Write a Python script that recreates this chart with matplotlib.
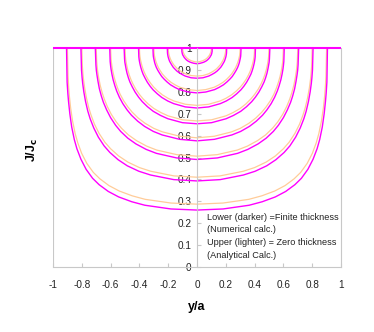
import numpy as np
import matplotlib
matplotlib.use("Agg")
import matplotlib.pyplot as plt

plt.rcParams['font.family'] = ['Liberation Sans', 'DejaVu Sans']

# flux front positions b/a of the nine profiles
fronts = [0.9, 0.8, 0.7, 0.6, 0.5, 0.4, 0.3, 0.2, 0.1]

# half profiles (y/a >= 0), zero thickness (analytical, lighter)
y_zero = [
    [0, .18, .36, .45, .54, .612, .675, .72, .765, .801, .828, .846, .864, .8775, .8865, .891, .8955, .9],
    [0, .16, .32, .40, .48, .544, .60, .64, .68, .712, .736, .752, .768, .78, .788, .792, .796, .8],
    [0, .14, .28, .35, .42, .476, .525, .56, .595, .623, .644, .658, .672, .6825, .6895, .693, .6965, .7],
    [0, .12, .24, .30, .36, .408, .45, .48, .51, .534, .552, .564, .576, .585, .591, .594, .597, .6],
    [0, .10, .20, .25, .30, .34, .375, .40, .425, .445, .46, .47, .48, .4875, .4925, .495, .4975, .5],
    [0, .08, .16, .20, .24, .272, .30, .32, .34, .356, .368, .376, .384, .39, .394, .396, .398, .4],
    [0, .06, .12, .15, .18, .204, .225, .24, .255, .267, .276, .282, .288, .2925, .2955, .297, .2985, .3],
    [0, .04, .08, .10, .12, .136, .15, .16, .17, .178, .184, .188, .192, .195, .197, .198, .199, .2],
    [0, .02, .04, .05, .06, .068, .075, .08, .085, .089, .092, .094, .096, .0975, .0985, .099, .0995, .1],
]
j_zero = [
    [.287, .292, .309, .325, .347, .372, .403, .432, .473, .519, .567, .609, .666, .726, .782, .820, .871, 1],
    [.410, .416, .437, .454, .479, .507, .540, .570, .610, .652, .694, .728, .773, .817, .856, .882, .916, 1],
    [.506, .513, .534, .552, .577, .603, .634, .662, .697, .733, .767, .795, .829, .864, .893, .913, .938, 1],
    [.590, .597, .617, .633, .656, .680, .707, .731, .760, .789, .818, .841, .868, .895, .918, .933, .952, 1],
    [.667, .672, .690, .705, .724, .745, .768, .788, .812, .836, .858, .876, .898, .919, .937, .948, .963, 1],
    [.738, .743, .758, .770, .786, .803, .821, .837, .856, .875, .892, .906, .923, .939, .952, .961, .972, 1],
    [.806, .810, .821, .831, .843, .856, .870, .881, .896, .909, .922, .932, .944, .956, .965, .972, .980, 1],
    [.872, .874, .882, .889, .897, .905, .915, .922, .932, .941, .949, .956, .964, .971, .978, .982, .987, 1],
    [.936, .938, .942, .945, .949, .953, .958, .962, .966, .971, .975, .978, .982, .986, .989, .991, .994, 1],
]

# half profiles, finite thickness (numerical, darker)
y_finite = [
    [0, .181, .362, .453, .544, .616, .680, .725, .770, .806, .834, .852, .870, .883, .892, .897, .902, .906],
    [0, .161, .322, .403, .484, .548, .605, .645, .685, .717, .742, .758, .774, .786, .794, .798, .802, .806],
    [0, .141, .282, .353, .424, .480, .530, .565, .600, .628, .650, .664, .678, .688, .695, .699, .702, .706],
    [0, .121, .242, .303, .364, .412, .455, .485, .515, .539, .558, .570, .582, .591, .597, .600, .603, .606],
    [0, .101, .202, .253, .304, .344, .380, .405, .430, .450, .466, .476, .486, .493, .498, .501, .503, .506],
    [0, .081, .162, .203, .244, .276, .305, .325, .345, .361, .374, .382, .390, .396, .400, .402, .404, .406],
    [0, .061, .122, .153, .184, .208, .230, .245, .260, .272, .282, .288, .294, .298, .301, .303, .304, .306],
    [0, .041, .082, .103, .124, .140, .155, .165, .175, .183, .190, .194, .198, .201, .203, .204, .205, .206],
    [0, .021, .042, .053, .064, .072, .080, .085, .090, .094, .098, .100, .102, .103, .104, .105, .105, .106],
]
j_finite = [
    [.260, .265, .282, .298, .320, .345, .376, .405, .446, .492, .540, .582, .639, .699, .755, .793, .844, 1],
    [.393, .399, .420, .437, .462, .490, .523, .553, .593, .635, .677, .711, .756, .800, .839, .865, .899, 1],
    [.491, .498, .519, .537, .562, .588, .619, .647, .682, .718, .752, .780, .814, .849, .878, .898, .923, 1],
    [.576, .583, .603, .619, .642, .666, .693, .717, .746, .775, .804, .827, .854, .881, .904, .919, .938, 1],
    [.654, .659, .677, .692, .711, .732, .755, .775, .799, .823, .845, .863, .885, .906, .924, .935, .950, 1],
    [.726, .731, .746, .758, .774, .791, .809, .825, .844, .863, .880, .894, .911, .927, .940, .949, .960, 1],
    [.795, .799, .810, .820, .832, .845, .859, .870, .885, .898, .911, .921, .933, .945, .954, .961, .969, 1],
    [.862, .864, .872, .879, .887, .895, .905, .912, .922, .931, .939, .946, .954, .961, .968, .972, .977, 1],
    [.928, .930, .934, .937, .941, .945, .950, .954, .958, .963, .967, .970, .974, .978, .981, .983, .986, 1],
]

# saturated region J = Jc across the whole strip
y_sat = [-1, 1]
j_sat = [1, 1]

x_ticks = [-1, -0.8, -0.6, -0.4, -0.2, 0, 0.2, 0.4, 0.6, 0.8, 1]
x_labels = ['-1', '-0.8', '-0.6', '-0.4', '-0.2', '0', '0.2', '0.4', '0.6', '0.8', '1']
y_ticks = [0, 0.1, 0.2, 0.3, 0.4, 0.5, 0.6, 0.7, 0.8, 0.9, 1]
y_labels = ['0', '0.1', '0.2', '0.3', '0.4', '0.5', '0.6', '0.7', '0.8', '0.9', '1']

LIGHT = '#FFCC99'
DARK = '#FF00FF'
GRID = '#C8C8C8'


def full(y, j):
    # mirror the half profile onto y/a < 0
    y = np.asarray(y)
    j = np.asarray(j)
    return np.concatenate([-y[::-1], y[1:]]), np.concatenate([j[::-1], j[1:]])


fig = plt.figure(figsize=(3.74, 3.32), dpi=100)
ax = fig.add_axes([53 / 374, 65 / 332, 288 / 374, 219 / 332])

for y, j in zip(y_zero, j_zero):
    xx, jj = full(y, j)
    ax.plot(xx, jj, color=LIGHT, lw=0.9, clip_on=False)
for y, j in zip(y_finite, j_finite):
    xx, jj = full(y, j)
    ax.plot(xx, jj, color=DARK, lw=1.0, clip_on=False)
ax.plot(y_sat, j_sat, color=DARK, lw=1.5, clip_on=False, solid_capstyle='butt')

ax.set_xlim(-1, 1)
ax.set_ylim(0, 1)

ax.spines['top'].set_visible(False)
ax.spines['left'].set_position(('data', 0))
for s in ['left', 'right', 'bottom']:
    ax.spines[s].set_color(GRID)
    ax.spines[s].set_linewidth(0.8)
ax.axvline(-1, color=GRID, lw=0.8, zorder=0)

ax.set_xticks(x_ticks)
ax.set_xticklabels(x_labels)
ax.set_yticks(y_ticks)
ax.set_yticklabels(y_labels)
ax.tick_params(axis='both', direction='in', length=3, width=0.8, color=GRID,
               labelsize=7.2, labelcolor='#222222')
ax.tick_params(axis='x', pad=9)
ax.tick_params(axis='y', pad=4)

ax.set_xlabel('y/a', fontsize=9, fontweight='bold', labelpad=8)
fig.text(32 / 374, 1 - 150 / 332, r'J/J$_\mathbf{c}$', rotation=90, fontsize=9,
         fontweight='bold', ha='center', va='center')

ax.text(0.535, 0.140,
        'Lower (darker) =Finite thickness\n(Numerical calc.)\n'
        'Upper (lighter) = Zero thickness\n(Analytical Calc.)',
        transform=ax.transAxes, fontsize=6.6, ha='left', va='center',
        linespacing=1.55, color='#222222')

fig.savefig('out.png', dpi=100)
